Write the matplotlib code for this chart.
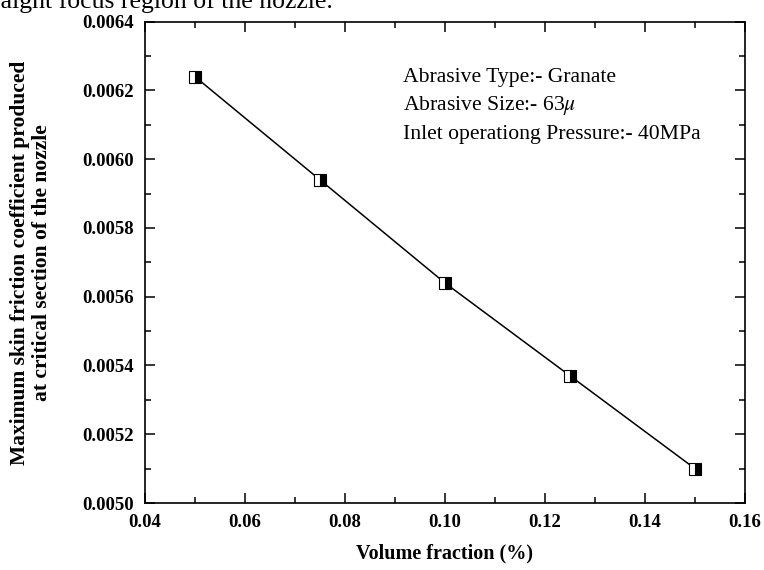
import matplotlib
matplotlib.use("Agg")
import matplotlib.pyplot as plt
from matplotlib.ticker import MultipleLocator

plt.rcParams['font.family'] = ['Liberation Serif', 'DejaVu Serif']
plt.rcParams['mathtext.fontset'] = 'stix'

# data
volume_fraction = [0.05, 0.075, 0.10, 0.125, 0.15]
skin_friction = [0.00624, 0.00594, 0.00564, 0.00537, 0.00510]

notes = ["Abrasive Type:- Granate",
         r"Abrasive Size:- 63$\mu$",
         "Inlet operationg Pressure:- 40MPa"]

fig = plt.figure(figsize=(7.64, 5.70), dpi=100)
ax = fig.add_axes([145 / 764, 1 - 503 / 570, 600 / 764, (503 - 21.7) / 570])

ax.plot(volume_fraction, skin_friction, color='black', linewidth=1.1,
        marker='s', markersize=8, fillstyle='right',
        markerfacecolor='black', markerfacecoloralt='white',
        markeredgecolor='black', markeredgewidth=0.8)

ax.set_xlim(0.04, 0.16)
ax.set_ylim(0.0050, 0.0064)
ax.xaxis.set_major_locator(MultipleLocator(0.02))
ax.xaxis.set_minor_locator(MultipleLocator(0.01))
ax.yaxis.set_major_locator(MultipleLocator(0.0002))
ax.yaxis.set_minor_locator(MultipleLocator(0.0001))
ax.xaxis.set_major_formatter(plt.FuncFormatter(lambda v, p: f"{v:.2f}"))
ax.yaxis.set_major_formatter(plt.FuncFormatter(lambda v, p: f"{v:.4f}"))

ax.tick_params(which='both', direction='in', top=True, right=True, width=1.1)
ax.tick_params(which='major', length=7, labelsize=13.5, pad=8)
ax.tick_params(which='minor', length=4)
for lbl in ax.get_xticklabels() + ax.get_yticklabels():
    lbl.set_fontweight('bold')
for sp in ax.spines.values():
    sp.set_linewidth(1.2)

ax.set_xlabel("Volume fraction (%)", fontsize=14.5, fontweight='bold', labelpad=9)
ax.set_ylabel("Maximum skin friction coefficient produced\nat critical section of the nozzle",
              fontsize=15.5, fontweight='bold', labelpad=22, linespacing=1.1)

for i, t in enumerate(notes):
    ax.text(0.43, 0.885 - i * 0.06, t, transform=ax.transAxes,
            fontsize=15.6, va='center', ha='left')

# caption fragment cut off at the top of the picture
fig.text(333 / 764, 1 - 8 / 570, "straight focus region of the nozzle.",
         fontsize=18.5, ha='right', va='baseline')

fig.savefig("out.png", dpi=100)
